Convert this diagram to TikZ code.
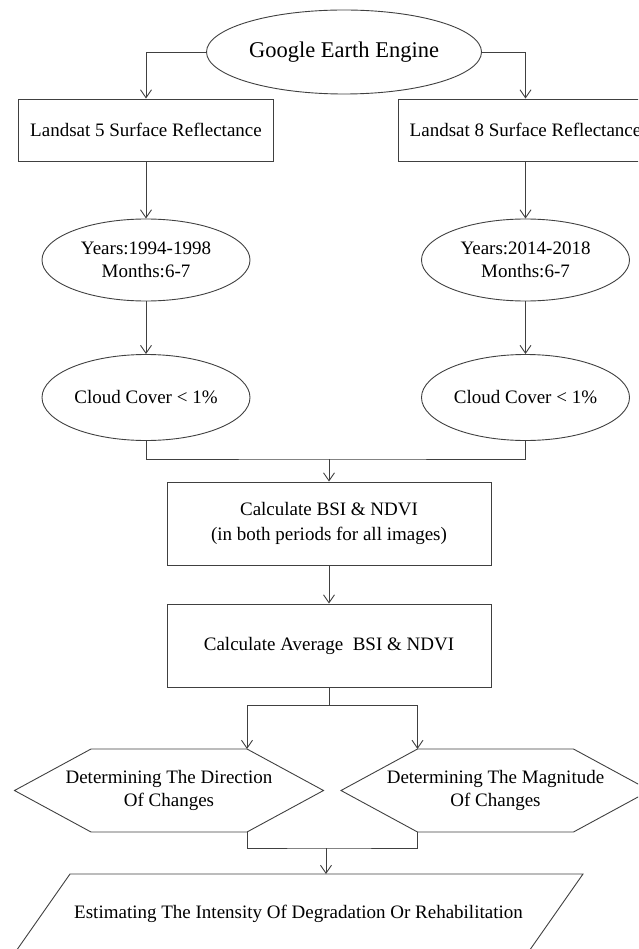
\documentclass[tikz,border=0pt]{standalone}
\usepackage{fontspec}
\setmainfont{Liberation Serif}
\usepackage{tikz}
\usetikzlibrary{calc,positioning,arrows.meta,shapes.geometric}

\begin{document}
\begin{tikzpicture}[>={Straight Barb[length=8pt,width=11pt]}, x=1pt, y=1pt]
  \tikzset{
    flowline/.style={draw=black!75, line width=0.9pt},
    oval/.style={flowline, ellipse, inner sep=0pt, align=center,
      font=\fontsize{19}{23}\selectfont},
    box/.style={flowline, rectangle, inner sep=0pt, align=center,
      font=\fontsize{19}{25}\selectfont},
    plaintext/.style={inner sep=0pt, align=center,
      font=\fontsize{19}{23}\selectfont},
  }
  \useasboundingbox (0,0) rectangle (638,-949);
  \clip (0,0) rectangle (638,-949);

  % source
  \node[oval, minimum width=275pt, minimum height=84pt,
    font=\fontsize{22.5}{27}\selectfont] (gee) at (344,-52) {Google Earth Engine};

  % two periods
  \node[box, minimum width=255pt, minimum height=62pt] (ls5) at (146,-130)
    {Landsat 5 Surface Reflectance};
  \node[box, minimum width=255pt, minimum height=62pt] (ls8) at (525.5,-130)
    {Landsat 8 Surface Reflectance};
  \node[oval, minimum width=208pt, minimum height=82pt] (yr5) at (146,-260)
    {Years:1994-1998\\Months:6-7};
  \node[oval, minimum width=208pt, minimum height=82pt] (yr8) at (525.5,-260)
    {Years:2014-2018\\Months:6-7};
  \node[oval, minimum width=208pt, minimum height=86pt] (cc5) at (146,-397.5)
    {Cloud Cover < 1\%};
  \node[oval, minimum width=208pt, minimum height=86pt] (cc8) at (525.5,-397.5)
    {Cloud Cover < 1\%};

  % indices
  \node[box, minimum width=324pt, minimum height=83pt] (calc) at (329,-523.5)
    {Calculate BSI \& NDVI\\(in both periods for all images)};
  \node[box, minimum width=324pt, minimum height=83pt] (avg) at (329,-645.5)
    {Calculate Average~ BSI \& NDVI};

  % changes (hexagons)
  \node[plaintext] (dir) at (169,-790.5) {Determining The Direction\\Of Changes};
  \node[plaintext] (mag) at (495.5,-790.5) {Determining The Magnitude\\Of Changes};
  \foreach \h in {dir,mag} {
    \coordinate (\h-nw) at ($(\h)+(-78,41.5)$);
    \coordinate (\h-ne) at ($(\h)+(78,41.5)$);
    \coordinate (\h-se) at ($(\h)+(78,-41.5)$);
    \coordinate (\h-sw) at ($(\h)+(-78,-41.5)$);
    \draw[flowline] (\h-nw) -- (\h-ne) -- ($(\h)+(154.5,0)$) -- (\h-se)
      -- (\h-sw) -- ($(\h)+(-154.5,0)$) -- cycle;
  }

  % result (parallelogram)
  \node[plaintext] (est) at (298.5,-914)
    {Estimating The Intensity Of Degradation Or Rehabilitation};
  \coordinate (est-nw) at ($(est)+(-228.5,40)$);
  \coordinate (est-ne) at ($(est)+(284.5,40)$);
  \draw[flowline] (est-nw) -- (est-ne) -- ($(est)+(228.5,-40)$)
    -- ($(est)+(-284.5,-40)$) -- cycle;

  \coordinate (j1) at (329,-459);
  \coordinate (j2) at (329,-705);
  \coordinate (j3) at (326,-848);

  \draw[flowline,->] (gee.west) -| (ls5.north);
  \draw[flowline,->] (gee.east) -| (ls8.north);
  \draw[flowline,->] (ls5) -- (yr5);
  \draw[flowline,->] (ls8) -- (yr8);
  \draw[flowline,->] (yr5) -- (cc5);
  \draw[flowline,->] (yr8) -- (cc8);
  \draw[flowline] (cc5.south) |- (j1) -| (cc8.south);
  \draw[flowline,->] (j1) -- (calc.north);
  \draw[flowline,->] (calc) -- (avg);
  \draw[flowline,->] (avg.south) -- (j2) -| (dir-ne);
  \draw[flowline,->] (j2) -| (mag-nw);
  \draw[flowline] (dir-se) |- (j3) -| (mag-sw);
  \draw[flowline,->] (j3) -- (j3 |- est-nw);

\end{tikzpicture}
\end{document}
